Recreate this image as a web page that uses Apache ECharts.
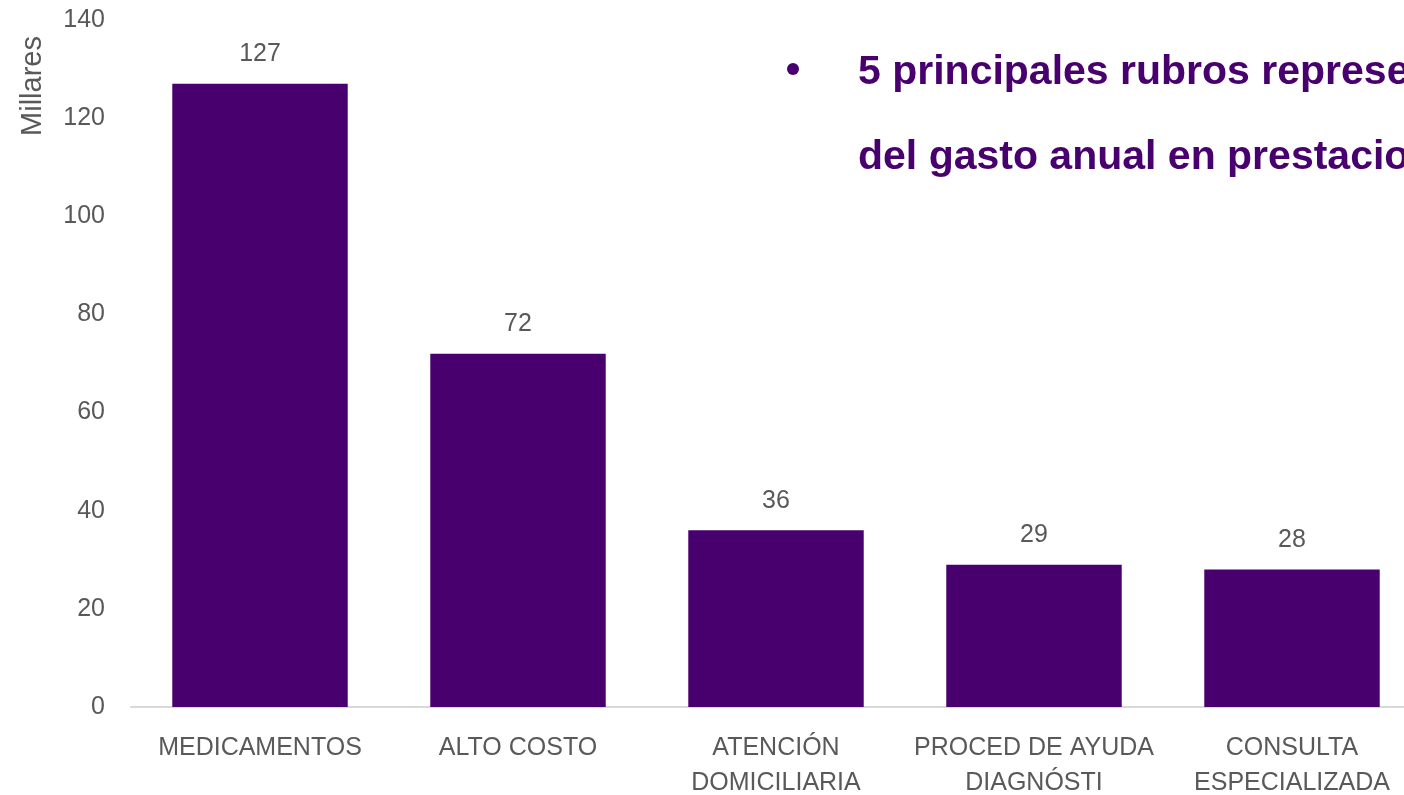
<!DOCTYPE html>
<html>
<head>
<meta charset="utf-8">
<title>Gasto anual en prestaciones</title>
<script src="https://cdn.jsdelivr.net/npm/echarts@6/dist/echarts.min.js"></script>
<style>
  html, body { margin: 0; padding: 0; background: #ffffff; }
  #chart { width: 1404px; height: 795px; }
</style>
</head>
<body>
<div id="chart"></div>
<script>
// Rubros (category labels, wrapped as shown on the axis)
const categories = [
  'MEDICAMENTOS',
  'ALTO COSTO',
  'ATENCIÓN\nDOMICILIARIA',
  'PROCED DE AYUDA\nDIAGNÓSTI',
  'CONSULTA\nESPECIALIZADA'
];
// Gasto anual por rubro, en millares
const gasto = [127, 72, 36, 29, 28];
// Value-axis ticks
const yTicks = [0, 20, 40, 60, 80, 100, 120, 140];

const axisName = 'Millares';
const noteLines = [
  '5 principales rubros representan',
  'del gasto anual en prestaciones'
];

const PURPLE = '#48006E';
const GREY = '#595959';
const FONT = '"Liberation Sans", Arial, sans-serif';

const chart = echarts.init(document.getElementById('chart'), null, { renderer: 'canvas' });

chart.setOption({
  backgroundColor: '#ffffff',
  animation: false,
  textStyle: { fontFamily: FONT },
  // plot area runs past the right edge of the page, so the last bar sits close to it
  grid: {
    left: 131, width: 1290, top: 20, bottom: 88,
    containLabel: false,
    outerBoundsMode: 'none'
  },
  xAxis: {
    type: 'category',
    data: categories,
    axisLine: { show: true, lineStyle: { color: '#d9d9d9', width: 2 } },
    axisTick: { show: false },
    axisLabel: {
      color: GREY,
      fontSize: 25,
      lineHeight: 35,
      margin: 24,
      fontFamily: FONT,
      interval: 0
    }
  },
  yAxis: {
    type: 'value',
    min: yTicks[0],
    max: yTicks[yTicks.length - 1],
    interval: yTicks[1] - yTicks[0],
    axisLine: { show: false },
    axisTick: { show: false },
    splitLine: { show: false },
    axisLabel: {
      color: GREY,
      fontSize: 25,
      margin: 26,
      fontFamily: FONT
    }
  },
  series: [{
    type: 'bar',
    data: gasto,
    barWidth: '68%',
    itemStyle: { color: PURPLE },
    label: {
      show: true,
      position: 'top',
      distance: 17,
      color: GREY,
      fontSize: 25,
      fontFamily: FONT
    }
  }],
  graphic: [
    {
      type: 'text',
      x: 33,
      y: 86,
      rotation: Math.PI / 2,
      style: {
        text: axisName,
        fill: GREY,
        font: '29px ' + FONT,
        textAlign: 'center',
        textVerticalAlign: 'middle'
      }
    },
    {
      type: 'circle',
      shape: { cx: 793, cy: 69, r: 6 },
      style: { fill: PURPLE }
    },
    {
      type: 'text',
      x: 858,
      y: 93,
      style: {
        text: noteLines[0],
        fill: PURPLE,
        font: 'bold 41px ' + FONT,
        textAlign: 'left',
        textVerticalAlign: 'bottom'
      }
    },
    {
      type: 'text',
      x: 858,
      y: 178,
      style: {
        text: noteLines[1],
        fill: PURPLE,
        font: 'bold 41px ' + FONT,
        textAlign: 'left',
        textVerticalAlign: 'bottom'
      }
    }
  ]
});
</script>
</body>
</html>
